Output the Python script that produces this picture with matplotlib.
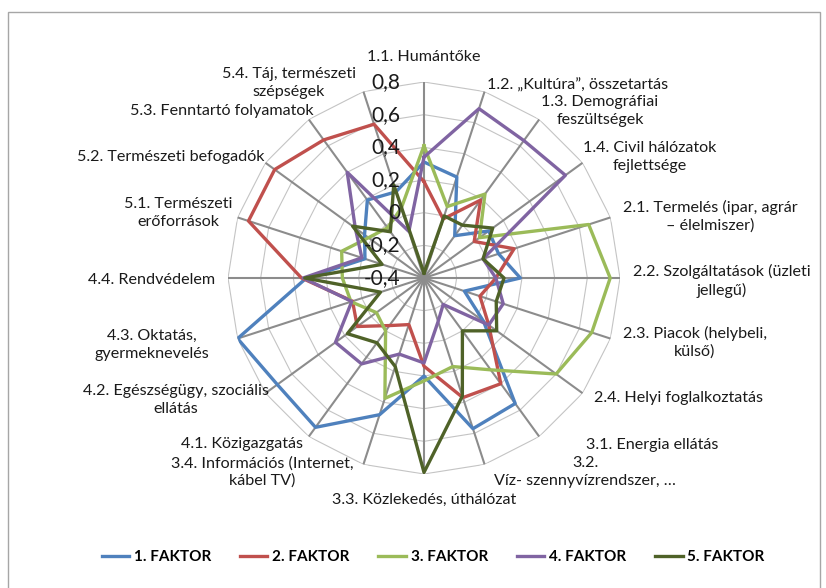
import numpy as np
import matplotlib
matplotlib.use("Agg")
from matplotlib import pyplot as plt
from matplotlib.patches import Rectangle

plt.rcParams['font.family'] = ['Lato', 'DejaVu Sans']

categories = [
    "1.1. Humántőke",
    "1.2. „Kultúra”, összetartás",
    "1.3. Demográfiai\nfeszültségek",
    "1.4. Civil hálózatok\nfejlettsége",
    "2.1. Termelés (ipar, agrár\n– élelmiszer)",
    "2.2. Szolgáltatások (üzleti\njellegű)",
    "2.3. Piacok (helybeli,\nkülső)",
    "2.4. Helyi foglalkoztatás",
    "3.1. Energia ellátás",
    "3.2.\nVíz- szennyvízrendszer, …",
    "3.3. Közlekedés, úthálózat",
    "3.4. Információs (Internet,\nkábel TV)",
    "4.1. Közigazgatás",
    "4.2. Egészségügy, szociális\nellátás",
    "4.3. Oktatás,\ngyermeknevelés",
    "4.4. Rendvédelem",
    "5.1. Természeti\nerőforrások",
    "5.2. Természeti befogadók",
    "5.3. Fenntartó folyamatok",
    "5.4. Táj, természeti\nszépségek",
]

faktor1 = [0.31, 0.25, -0.08, 0.09, 0.08, 0.19, -0.14, 0.05, 0.55, 0.57,
           0.20, 0.48, 0.73, 0.71, 0.80, 0.32, -0.02, 0.05, 0.19, 0.155]
faktor2 = [0.19, -0.02, 0.19, -0.02, 0.18, 0.04, -0.04, 0.09, 0.40, 0.37,
           0.14, -0.10, -0.04, 0.105, 0.06, 0.35, 0.73, 0.73, 0.645, 0.59]
faktor3 = [0.41, 0.06, 0.235, 0.02, 0.66, 0.74, 0.68, 0.60, 0.295, 0.17,
           0.23, 0.375, 0.0, -0.04, 0.07, 0.10, 0.13, 0.02, -0.02, 0.05]
faktor4 = [0.34, 0.69, 0.64, 0.67, -0.02, 0.04, 0.11, 0.09, -0.20, -0.12,
           0.12, 0.09, 0.25, 0.27, 0.065, 0.34, 0.0, 0.12, 0.40, -0.10]
faktor5 = [-0.37, 0.0, 0.0, 0.12, -0.02, 0.09, 0.065, 0.15, 0.0, 0.36,
           0.79, 0.17, 0.09, 0.18, -0.12, 0.33, -0.13, 0.14, -0.05, 0.20]

series_names = ["1. FAKTOR", "2. FAKTOR", "3. FAKTOR", "4. FAKTOR", "5. FAKTOR"]
r_ticks = [-0.4, -0.2, 0.0, 0.2, 0.4, 0.6, 0.8]
r_tick_labels = ["-0,4", "-0,2", "0", "0,2", "0,4", "0,6", "0,8"]

colors = ["#4F81BD", "#C0504D", "#9BBB59", "#8064A2", "#4F6228"]

# label centres in pixels (x from left, y from top)
label_pos = [(424, 57), (578, 85), (600, 111), (650, 157), (710, 216),
             (722, 281), (695, 342), (679, 398), (652, 445), (585, 472),
             (424, 500), (262, 472), (242, 444), (176, 400), (152, 345),
             (152, 280), (178, 213), (171, 157), (222, 111), (289, 83)]

W, H = 826, 588
fig = plt.figure(figsize=(W / 100, H / 100), dpi=100)

# outer chart frame
fig.patches.append(Rectangle((8 / W, -0.05), 812 / W, 1.05 - 12 / H,
                             transform=fig.transFigure, fill=False,
                             edgecolor="#A6A6A6", lw=1.0))

cx, cy, rad = 424, 278, 196
ax = fig.add_axes([(cx - rad) / W, (H - cy - rad) / H, 2 * rad / W, 2 * rad / H],
                  projection="polar")
ax.set_theta_zero_location("N")
ax.set_theta_direction(-1)
ax.set_ylim(r_ticks[0], r_ticks[-1])
ax.set_axis_off()

n = len(categories)
theta = np.linspace(0, 2 * np.pi, n, endpoint=False)
theta_c = np.append(theta, theta[0])

# polygon rings and spokes
for r in r_ticks[1:]:
    ax.plot(theta_c, [r] * (n + 1), color="#C4C4C4", lw=0.8, zorder=1)
for t in theta:
    ax.plot([t, t], [r_ticks[0], r_ticks[-1]], color="#8C8C8C", lw=1.5, zorder=2)

lines = []
for vals, name, col in zip([faktor1, faktor2, faktor3, faktor4, faktor5],
                           series_names, colors):
    v = np.append(vals, vals[0])
    ln, = ax.plot(theta_c, v, color=col, lw=2.4, label=name, zorder=3)
    lines.append(ln)

for r, lbl in zip(r_ticks, r_tick_labels):
    ax.annotate(lbl, xy=(0, r), xytext=(-17, 0), textcoords="offset points",
                ha="right", va="center", fontsize=15, color="#1A1A1A", zorder=4)

for lbl, (px, py) in zip(categories, label_pos):
    fig.text(px / W, 1 - py / H, lbl, ha="center", va="center",
             multialignment="center", fontsize=11.6, color="#1A1A1A",
             linespacing=1.3)

leg = fig.legend(handles=lines, loc="center", bbox_to_anchor=(433 / W, 1 - 557 / H),
                 ncol=5, frameon=False, handlelength=1.8, columnspacing=1.9,
                 handletextpad=0.3, prop={"weight": "bold", "size": 11})

plt.savefig("out.png", dpi=100)
plt.close()
